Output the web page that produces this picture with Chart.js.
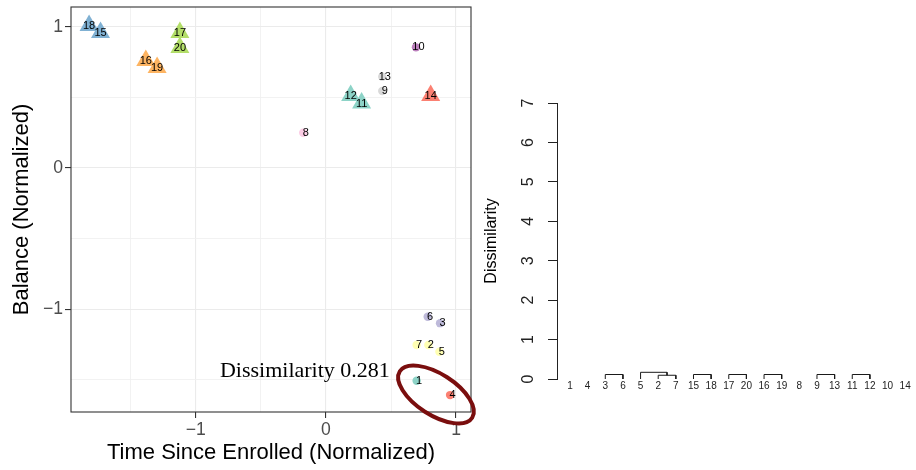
<!DOCTYPE html>
<html><head><meta charset="utf-8">
<script src="https://cdn.jsdelivr.net/npm/chart.js@4.4.0/dist/chart.umd.min.js"></script>
<style>
html,body{margin:0;padding:0;background:#fff;}
#wrap{position:relative;width:916px;height:470px;overflow:hidden;background:#fff;}
#c1{position:absolute;left:0;top:0;}
#c2{position:absolute;left:480px;top:0;}
</style></head><body>
<div id="wrap">
<canvas id="c1" width="480" height="470"></canvas>
<canvas id="c2" width="436" height="470"></canvas>
</div>
<script>
// ---------- scatter data ----------
const pointIds   = [1, 2, 3, 4, 5, 6, 7, 8, 9, 10, 11, 12, 13, 14, 15, 16, 17, 18, 19, 20];
const timeX      = [0.697, 0.787, 0.877, 0.954, 0.872, 0.782, 0.697, -0.175, 0.433, 0.692,
                    0.274, 0.190, 0.433, 0.805, -1.733, -1.385, -1.123, -1.821, -1.298, -1.123];
const balanceY   = [-1.508, -1.255, -1.100, -1.610, -1.303, -1.055, -1.255, 0.250, 0.546, 0.856,
                    0.462, 0.514, 0.648, 0.514, 0.962, 0.762, 0.962, 1.011, 0.713, 0.855];
const pointShape = ['circle','circle','circle','circle','circle','circle','circle','circle','circle','circle',
                    'triangle','triangle','circle','triangle','triangle','triangle','triangle','triangle','triangle','triangle'];
const pointCluster = [0, 1, 2, 3, 1, 2, 1, 7, 8, 9, 0, 0, 8, 3, 4, 5, 6, 4, 5, 6];
const clusterColors = ['#8DD3C7', '#FFFFB3', '#BEBADA', '#FB8072', '#80B1D3', '#FDB462', '#B3DE69',
                       '#FCCDE5', '#D9D9D9', '#BC80BD'];
const xMajorTicks = [-1, 0, 1];
const xMinorTicks = [-1.5, -0.5, 0.5];
const yMajorTicks = [-1, 0, 1];
const yMinorTicks = [-1.5, -0.5, 0.5];
const xTitle = 'Time Since Enrolled (Normalized)';
const yTitle = 'Balance (Normalized)';
const dissimilarityText = 'Dissimilarity 0.281';
const dissimilarityAt = [-0.162, -1.482];
const ellipseCenter = [0.846, -1.606];

// ---------- dendrogram data ----------
const leafOrder   = [1, 4, 3, 6, 5, 2, 7, 15, 18, 17, 20, 16, 19, 8, 9, 13, 11, 12, 10, 14];
const mergeLeft   = [3, 2, 5, 15, 17, 16, 9, 11];
const mergeRight  = [6, 7, -2, 18, 20, 19, 13, 12];   // negative = earlier merge index (1-based)
const mergeHeight = [0.114, 0.095, 0.17, 0.114, 0.114, 0.114, 0.114, 0.114];
const dendroYTicks = [0, 1, 2, 3, 4, 5, 6, 7];
const dendroTitle = 'Dissimilarity';

const SANS = "'Liberation Sans', Arial, sans-serif";
Chart.defaults.font.family = SANS;

const fmt = v => v < 0 ? '\u2212' + Math.abs(v) : String(v);
const isMajor = v => Math.abs(v - Math.round(v)) < 1e-9;
const shapes = pointShape;

const scatterPlugin = {
  id: 'scatterExtras',
  afterDatasetsDraw(chart) {
    const ctx = chart.ctx, a = chart.chartArea;
    ctx.save();
    ctx.strokeStyle = '#333333';
    ctx.lineWidth = 1.1;
    ctx.strokeRect(a.left, a.top, a.right - a.left, a.bottom - a.top);
    const meta = chart.getDatasetMeta(0);
    ctx.fillStyle = '#000';
    ctx.font = "11px " + SANS;
    ctx.textAlign = 'center';
    ctx.textBaseline = 'middle';
    meta.data.forEach((el, i) => {
      const dx = shapes[i] === 'circle' ? 2.5 : 0;
      const dy = shapes[i] === 'circle' ? 0 : 0.8;
      ctx.fillText(String(pointIds[i]), el.x + dx, el.y + dy);
    });
    ctx.restore();
  },
  afterDraw(chart) {
    const ctx = chart.ctx, sx = chart.scales.x, sy = chart.scales.y;
    ctx.save();
    ctx.strokeStyle = '#7A0E0E';
    ctx.lineWidth = 4;
    ctx.beginPath();
    ctx.ellipse(sx.getPixelForValue(ellipseCenter[0]), sy.getPixelForValue(ellipseCenter[1]),
                43, 20.5, 32.7 * Math.PI / 180, 0, Math.PI * 2);
    ctx.stroke();
    ctx.fillStyle = '#000';
    ctx.font = "22px 'Liberation Serif', 'Times New Roman', serif";
    ctx.textAlign = 'center';
    ctx.textBaseline = 'alphabetic';
    ctx.fillText(dissimilarityText, sx.getPixelForValue(dissimilarityAt[0]), sy.getPixelForValue(dissimilarityAt[1]));
    ctx.restore();
  }
};

const gridCfg = {
  color: c => isMajor(c.tick.value) ? '#EBEBEB' : '#F1F1F1',
  lineWidth: c => isMajor(c.tick.value) ? 1.1 : 0.9,
  tickLength: 6,
  tickColor: c => isMajor(c.tick.value) ? '#333333' : 'rgba(0,0,0,0)',
  tickWidth: 1.1
};
const noPad = s => { s.paddingTop = 0; s.paddingBottom = 0; s.paddingLeft = 0; s.paddingRight = 0; };

new Chart(document.getElementById('c1'), {
  type: 'scatter',
  data: { datasets: [{
    data: pointIds.map((id, i) => ({ x: timeX[i], y: balanceY[i] })),
    pointStyle: shapes,
    pointRadius: shapes.map(s => s === 'triangle' ? 11 : 4.2),
    pointHoverRadius: shapes.map(s => s === 'triangle' ? 11 : 4.2),
    backgroundColor: pointCluster.map(c => clusterColors[c]),
    borderWidth: 0,
    clip: false
  }]},
  options: {
    animation: false, responsive: false, events: [],
    plugins: { legend: { display: false }, tooltip: { enabled: false } },
    layout: { autoPadding: false, padding: { top: 7, right: 9, left: 0, bottom: 0 } },
    scales: {
      x: {
        type: 'linear', min: -1.96, max: 1.115,
        afterBuildTicks: s => { s.ticks = [...xMinorTicks, ...xMajorTicks].sort((a, b) => a - b).map(v => ({ value: v })); },
        afterFit: s => { s.height = 58; noPad(s); },
        grid: gridCfg,
        border: { display: false },
        ticks: { callback: v => xMajorTicks.includes(v) ? fmt(v) : '', font: { size: 17.6 }, color: '#4D4D4D',
                 padding: 2, maxRotation: 0, minRotation: 0, autoSkip: false },
        title: { display: true, text: xTitle, font: { size: 22 }, color: '#000', padding: { top: 0, bottom: 4 } }
      },
      y: {
        type: 'linear', min: -1.73, max: 1.142,
        afterBuildTicks: s => { s.ticks = [...yMinorTicks, ...yMajorTicks].sort((a, b) => a - b).map(v => ({ value: v })); },
        afterFit: s => { s.width = 71; noPad(s); },
        grid: gridCfg,
        border: { display: false },
        ticks: { callback: v => yMajorTicks.includes(v) ? fmt(v) : '', font: { size: 17.6 }, color: '#4D4D4D',
                 padding: 2, autoSkip: false },
        title: { display: true, text: yTitle, font: { size: 22 }, color: '#000', padding: { top: 9, bottom: 0 } }
      }
    }
  },
  plugins: [scatterPlugin]
});

// ---------- dendrogram ----------
const leafPos = {};
leafOrder.forEach((id, i) => { leafPos[id] = i + 1; });
const nodeX = [], nodeH = [];
const childXH = ref => ref > 0 ? [leafPos[ref], 0] : [nodeX[-ref - 1], nodeH[-ref - 1]];
const segDatasets = mergeLeft.map((l, i) => {
  const [xl, hl] = childXH(l);
  const [xr, hr] = childXH(mergeRight[i]);
  const h = mergeHeight[i];
  nodeX[i] = (xl + xr) / 2; nodeH[i] = h;
  return {
    data: [{ x: xl, y: hl }, { x: xl, y: h }, { x: xr, y: h }, { x: xr, y: hr }],
    showLine: true, pointRadius: 0, borderColor: '#1a1a1a', borderWidth: 1, fill: false, tension: 0, clip: false
  };
});

new Chart(document.getElementById('c2'), {
  type: 'scatter',
  data: { datasets: segDatasets },
  options: {
    animation: false, responsive: false, events: [],
    plugins: { legend: { display: false }, tooltip: { enabled: false } },
    layout: { autoPadding: false, padding: { top: 103, right: 2, left: 0, bottom: 0 } },
    scales: {
      x: {
        type: 'linear', min: 0.263, max: 20.5,
        afterBuildTicks: s => { s.ticks = leafOrder.map((id, i) => ({ value: i + 1 })); },
        afterFit: s => { s.height = 91; noPad(s); },
        grid: { display: false, drawTicks: false },
        border: { display: false },
        ticks: { callback: (v, i) => String(leafOrder[i]), autoSkip: false, maxRotation: 0, minRotation: 0,
                 font: { size: 10 }, color: '#222', padding: 1 }
      },
      y: {
        type: 'linear', min: 0, max: 7,
        afterBuildTicks: s => { s.ticks = dendroYTicks.map(v => ({ value: v })); },
        afterFit: s => { s.width = 77; noPad(s); },
        grid: { drawOnChartArea: false, tickLength: 9, tickColor: '#222', tickWidth: 1 },
        border: { display: true, color: '#222', width: 1 },
        ticks: { minRotation: 90, maxRotation: 90, crossAlign: 'center', padding: 15,
                 font: { size: 16 }, color: '#222', autoSkip: false },
        title: { display: true, text: dendroTitle, font: { size: 16 }, color: '#000', padding: { top: 1.5, bottom: 0 } }
      }
    }
  }
});
</script>
</body></html>
